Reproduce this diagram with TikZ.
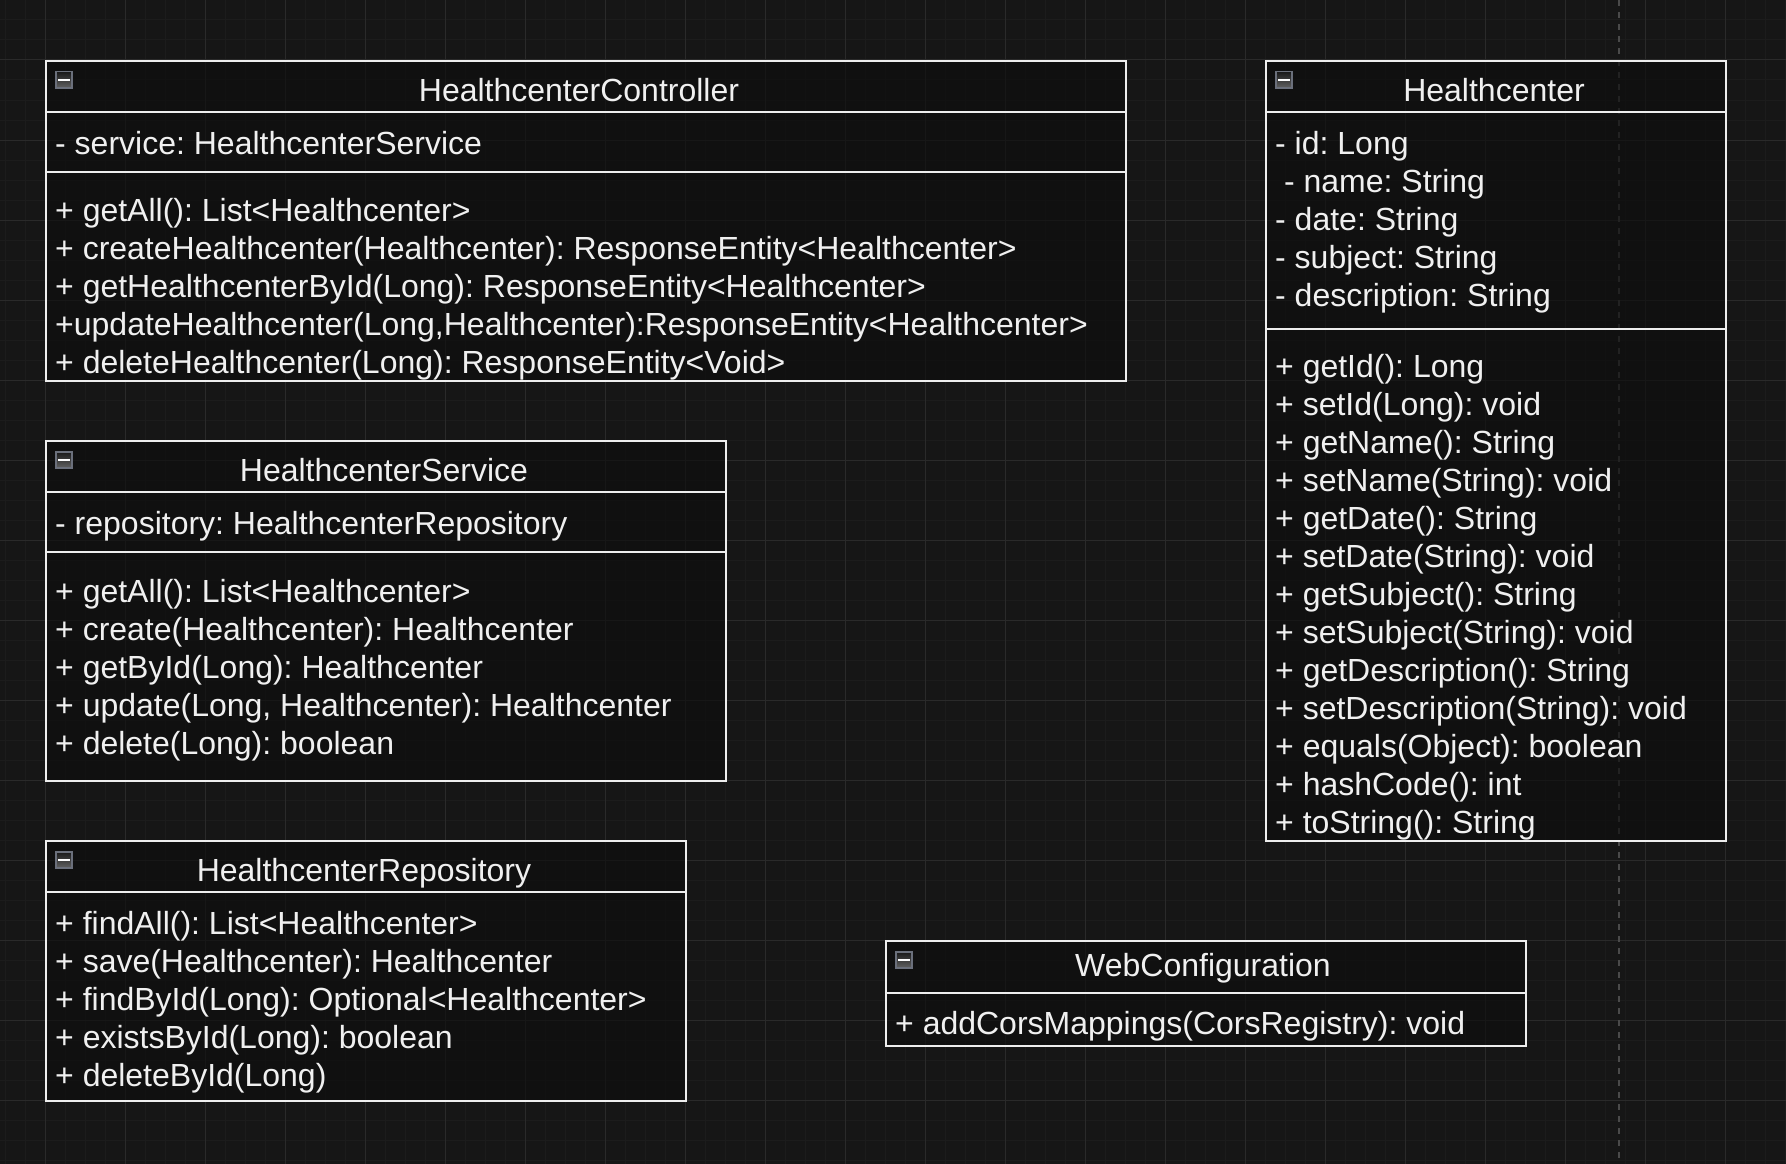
\documentclass[tikz,border=0pt]{standalone}
\usepackage{fontspec}
\setmainfont{Liberation Sans}
\frenchspacing
\definecolor{bg}{HTML}{161616}
\definecolor{boxfill}{HTML}{0E0E0E}
\definecolor{boxline}{HTML}{EEEEEE}
\definecolor{txt}{HTML}{F0F0F0}
\definecolor{gridmajor}{HTML}{2A2A2A}
\definecolor{gridminor}{HTML}{1C1C1C}
\definecolor{pagebreak}{HTML}{4A4A4A}
\definecolor{iconline}{HTML}{6B707C}
\tikzset{
  classbox/.style={draw=boxline, fill=boxfill, fill opacity=0.65, draw opacity=1, line width=2pt, inner sep=0pt, anchor=north west, rectangle},
  sepline/.style={draw=boxline, line width=2pt},
  txtline/.style={text=txt, inner sep=0pt, anchor=base west, font=\frenchspacing\fontsize{32}{38.4}\selectfont},
  title/.style={text=txt, inner sep=0pt, anchor=base, font=\frenchspacing\fontsize{32}{38.4}\selectfont},
  collapse/.style={draw=iconline, line width=1.5pt, top color=black!90, bottom color=black!62, minimum width=16pt, minimum height=16pt, inner sep=0pt, anchor=north west, rectangle},
  minus/.style={draw=white, line width=2pt},
}
\begin{document}
\begin{tikzpicture}[x=1pt,y=-1pt]
\fill[bg] (0,0) rectangle (1786,1164);
\useasboundingbox (0,0) rectangle (1786,1164);
% grid
\foreach \gx in {5,25,...,1785} \draw[gridminor, line width=1pt] (\gx,0) -- (\gx,1164);
\foreach \gy in {0,20,...,1160} \draw[gridminor, line width=1pt] (0,\gy) -- (1786,\gy);
\foreach \gx in {45,125,...,1725} \draw[gridmajor, line width=1pt] (\gx,0) -- (\gx,1164);
\foreach \gy in {60,140,...,1100} \draw[gridmajor, line width=1pt] (0,\gy) -- (1786,\gy);
% page break line
\draw[pagebreak, line width=1.5pt, dash pattern=on 6pt off 6pt] (1619,0) -- (1619,1164);

% ---------- HealthcenterController ----------
\node[classbox, minimum width=1080pt, minimum height=320pt] (ctrl) at (45,60) {};
\draw[sepline] (45,112) -- (1125,112);
\draw[sepline] (45,172) -- (1125,172);
\node[collapse] (ctrlicon) at (55,71) {};
\draw[minus] ([xshift=3pt]ctrlicon.west) -- ([xshift=-3pt]ctrlicon.east);
\node[title] (ctrlt) at (579,101.5) {HealthcenterController};
\node[txtline] (ctrla1) at (55,154) {- service: HealthcenterService};
\node[txtline] (ctrlm1) at (55,221) {+ getAll(): List<Healthcenter>};
\node[txtline] (ctrlm2) at (55,259) {+ createHealthcenter(Healthcenter): ResponseEntity<Healthcenter>};
\node[txtline] (ctrlm3) at (55,297) {+ getHealthcenterById(Long): ResponseEntity<Healthcenter>};
\node[txtline] (ctrlm4) at (55,335) {+updateHealthcenter(Long,Healthcenter):ResponseEntity<Healthcenter>};
\node[txtline] (ctrlm5) at (55,373) {+ deleteHealthcenter(Long): ResponseEntity<Void>};

% ---------- Healthcenter ----------
\node[classbox, minimum width=460pt, minimum height=780pt] (hc) at (1265,60) {};
\draw[sepline] (1265,112) -- (1725,112);
\draw[sepline] (1265,328.5) -- (1725,328.5);
\node[collapse] (hcicon) at (1275,71) {};
\draw[minus] ([xshift=3pt]hcicon.west) -- ([xshift=-3pt]hcicon.east);
\node[title] (hct) at (1494,101.5) {Healthcenter};
\node[txtline] (hca1) at (1275,154) {- id: Long};
\node[txtline] (hca2) at (1275,192) {\ - name: String};
\node[txtline] (hca3) at (1275,230) {- date: String};
\node[txtline] (hca4) at (1275,268) {- subject: String};
\node[txtline] (hca5) at (1275,306) {- description: String};
\node[txtline] (hcm1) at (1275,377) {+ getId(): Long};
\node[txtline] (hcm2) at (1275,415) {+ setId(Long): void};
\node[txtline] (hcm3) at (1275,453) {+ getName(): String};
\node[txtline] (hcm4) at (1275,491) {+ setName(String): void};
\node[txtline] (hcm5) at (1275,529) {+ getDate(): String};
\node[txtline] (hcm6) at (1275,567) {+ setDate(String): void};
\node[txtline] (hcm7) at (1275,605) {+ getSubject(): String};
\node[txtline] (hcm8) at (1275,643) {+ setSubject(String): void};
\node[txtline] (hcm9) at (1275,681) {+ getDescription(): String};
\node[txtline] (hcm10) at (1275,719) {+ setDescription(String): void};
\node[txtline] (hcm11) at (1275,757) {+ equals(Object): boolean};
\node[txtline] (hcm12) at (1275,795) {+ hashCode(): int};
\node[txtline] (hcm13) at (1275,833) {+ toString(): String};

% ---------- HealthcenterService ----------
\node[classbox, minimum width=680pt, minimum height=340pt] (svc) at (45,440) {};
\draw[sepline] (45,492) -- (725,492);
\draw[sepline] (45,552) -- (725,552);
\node[collapse] (svcicon) at (55,451) {};
\draw[minus] ([xshift=3pt]svcicon.west) -- ([xshift=-3pt]svcicon.east);
\node[title] (svct) at (384,481.5) {HealthcenterService};
\node[txtline] (svca1) at (55,534) {- repository: HealthcenterRepository};
\node[txtline] (svcm1) at (55,602) {+ getAll(): List<Healthcenter>};
\node[txtline] (svcm2) at (55,640) {+ create(Healthcenter): Healthcenter};
\node[txtline] (svcm3) at (55,678) {+ getById(Long): Healthcenter};
\node[txtline] (svcm4) at (55,716) {+ update(Long, Healthcenter): Healthcenter};
\node[txtline] (svcm5) at (55,754) {+ delete(Long): boolean};

% ---------- HealthcenterRepository ----------
\node[classbox, minimum width=640pt, minimum height=260pt] (repo) at (45,840) {};
\draw[sepline] (45,892) -- (685,892);
\node[collapse] (repoicon) at (55,851) {};
\draw[minus] ([xshift=3pt]repoicon.west) -- ([xshift=-3pt]repoicon.east);
\node[title] (repot) at (364,881.5) {HealthcenterRepository};
\node[txtline] (repom1) at (55,934) {+ findAll(): List<Healthcenter>};
\node[txtline] (repom2) at (55,972) {+ save(Healthcenter): Healthcenter};
\node[txtline] (repom3) at (55,1010) {+ findById(Long): Optional<Healthcenter>};
\node[txtline] (repom4) at (55,1048) {+ existsById(Long): boolean};
\node[txtline] (repom5) at (55,1086) {+ deleteById(Long)};

% ---------- WebConfiguration ----------
\node[classbox, minimum width=640pt, minimum height=105pt] (web) at (885,940) {};
\draw[sepline] (885,992.5) -- (1525,992.5);
\node[collapse] (webicon) at (895,951) {};
\draw[minus] ([xshift=3pt]webicon.west) -- ([xshift=-3pt]webicon.east);
\node[title] (webt) at (1203,976.5) {WebConfiguration};
\node[txtline] (webm1) at (895,1034) {+ addCorsMappings(CorsRegistry): void};
\end{tikzpicture}
\end{document}
